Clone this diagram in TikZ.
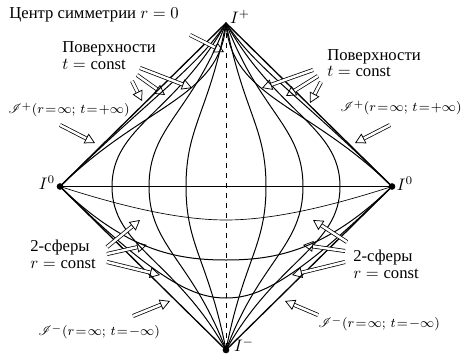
\documentclass[tikz,border=0pt]{standalone}
\usepackage{fontspec}
\setmainfont{Liberation Serif}
\usepackage{mathrsfs}
\usetikzlibrary{arrows.meta, calc}
\newcommand{\scritext}[1]{{\thickmuskip=1.5mu\medmuskip=1mu$#1$}}

\begin{document}
\begin{tikzpicture}[
    x=0.6pt, y=-0.6pt,
    every node/.style={font=\fontsize{10}{10}\selectfont},
    lbl/.style={anchor=west, align=left, inner sep=0pt},
    scri/.style={lbl, font=\fontsize{8.5}{10}\selectfont},
    dot/.style={circle, fill, inner sep=0pt, minimum size=4pt},
    border/.style={line width=0.8pt},
    curve/.style={line width=0.6pt},
    harr/.style={double=white, double distance=1.5pt, line width=0.45pt,
                 -{Triangle[open, length=6pt, width=6.5pt]}}
]
    \useasboundingbox (0,0) rectangle (464,353);

    \coordinate (C) at (226,186.5);
    \coordinate (T) at (226,23);
    \coordinate (B) at (226,350);
    \coordinate (L) at (60,186.5);
    \coordinate (R) at (392,186.5);

    \draw[border] (L) -- (T) -- (R) -- (B) -- cycle;
    \draw[curve] (L) -- (R);
    \draw[dashed, line width=0.5pt] (T) -- (B);

    \foreach \s in {-1,1} {
      \begin{scope}[shift={(C)}, xscale=\s]
        \foreach \a in {40,77,114}
          \draw[curve] (0,-163.5) .. controls (-0.44*\a,-73.5) and (-\a,-60) .. (-\a,0)
                       .. controls (-\a,60) and (-0.44*\a,73.5) .. (0,163.5);
        \draw[curve] (-166,0) .. controls (-74.7,-89.9) and (-28,-119.5) .. (0,-163.5);
        \draw[curve] (-166,0) .. controls (-83,-81.8) and (-5,-88.5) .. (0,-163.5);
        \draw[line width=0.4pt] (-166,0) .. controls (-110,18) and (-50,33.5) .. (0,33.5);
        \draw[curve] (-166,0) .. controls (-100,64) and (-50,73.5) .. (0,73.5);
        \draw[curve] (-166,0) .. controls (-66.4,98.1) and (-30,111.5) .. (0,111.5);
      \end{scope}
    }

    \node[dot] (i0l) at (L) {};
    \node[dot] (i0r) at (R) {};
    \node[dot] (im) at (B) {};
    \node (lip) at (240,17) {$I^+$};
    \node (lim) at (244,345) {$I^-$};
    \node (li0l) at (47,183) {$I^0$};
    \node (li0r) at (405,184) {$I^0$};

    \node[lbl] (ctr) at (9,15) {Центр симметрии $r=0$};
    \node[lbl] (surfl) at (62,55.5) {Поверхности\\$t=\mathrm{const}$};
    \node[lbl] (surfr) at (327,63) {Поверхности\\$t=\mathrm{const}$};
    \node[scri] (scrpl) at (8,110) {\scritext{\mathscr{I}^+(r=\infty;\,t=+\infty)}};
    \node[scri, anchor=east] (scrpr) at (462,108) {\scritext{\mathscr{I}^+(r=\infty;\,t=+\infty)}};
    \node[lbl] (sphl) at (30,254.5) {2-сферы\\$r=\mathrm{const}$};
    \node[lbl] (sphr) at (353,264.5) {2-сферы\\$r=\mathrm{const}$};
    \node[scri] (scrml) at (38,332) {\scritext{\mathscr{I}^-(r=\infty;\,t=-\infty)}};
    \node[scri] (scrmr) at (318,324) {\scritext{\mathscr{I}^-(r=\infty;\,t=-\infty)}};

    \coordinate (c0t) at (190,35);   \coordinate (c0) at (224,52);
    \coordinate (sl1t) at (140,68);  \coordinate (sl1) at (192,88);
    \coordinate (sl2t) at (137,75);  \coordinate (sl2) at (165,95);
    \coordinate (sl3t) at (132,81);  \coordinate (sl3) at (142,101);
    \coordinate (jplt) at (60,125);  \coordinate (jpl) at (95,143);
    \coordinate (sr1t) at (313,70);  \coordinate (sr1) at (262,88);
    \coordinate (sr2t) at (318,76);  \coordinate (sr2) at (286,96);
    \coordinate (sr3t) at (321,82);  \coordinate (sr3) at (310,103);
    \coordinate (jprt) at (390,125); \coordinate (jpr) at (355,143);
    \coordinate (hl1t) at (107,247); \coordinate (hl1) at (140,220);
    \coordinate (hl2t) at (107,254); \coordinate (hl2) at (147,245);
    \coordinate (hl3t) at (107,262); \coordinate (hl3) at (160,275);
    \coordinate (jmlt) at (133,316); \coordinate (jml) at (170,301);
    \coordinate (hr1t) at (347,242); \coordinate (hr1) at (313,220);
    \coordinate (hr2t) at (345,251); \coordinate (hr2) at (303,245);
    \coordinate (hr3t) at (345,262); \coordinate (hr3) at (292,275);
    \coordinate (jmrt) at (318,315); \coordinate (jmr) at (285,301);

    \foreach \n in {c0,sl1,sl2,sl3,jpl,sr1,sr2,sr3,jpr,hl1,hl2,hl3,jml,hr1,hr2,hr3,jmr}
      \draw[harr] (\n t) -- (\n);
\end{tikzpicture}
\end{document}
